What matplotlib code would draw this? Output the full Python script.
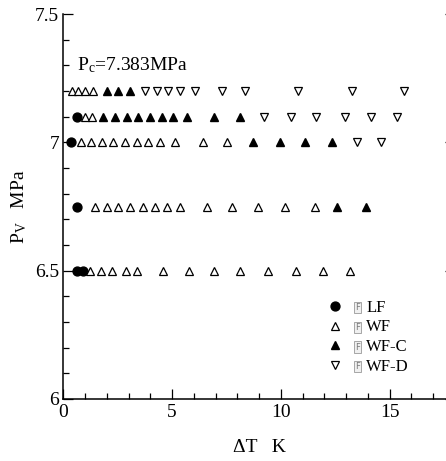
import matplotlib
matplotlib.use("Agg")
import matplotlib.pyplot as plt
from matplotlib.ticker import MultipleLocator, FuncFormatter

plt.rcParams['font.family'] = ['Liberation Serif', 'DejaVu Serif']
plt.rcParams['mathtext.fontset'] = 'custom'
plt.rcParams['mathtext.rm'] = 'Liberation Serif'
plt.rcParams['mathtext.it'] = 'Liberation Serif:italic'

# data: (dT [K], Pv [MPa])
lf_dt = [0.34, 0.62, 0.65, 0.62, 0.9]
lf_p = [7.0, 7.1, 6.75, 6.5, 6.5]

wf_dt_72 = [0.40, 0.69, 1.01, 1.38]
wf_dt_71 = [1.0, 1.3]
wf_dt_70 = [0.8, 1.26, 1.77, 2.3, 2.84, 3.37, 3.91, 4.45, 5.14, 6.42, 7.51]
wf_dt_675 = [1.46, 2.0, 2.53, 3.07, 3.65, 4.22, 4.78, 5.37, 6.59, 7.77, 8.97, 10.19, 11.57]
wf_dt_65 = [1.23, 1.72, 2.24, 2.86, 3.37, 4.6, 5.77, 6.94, 8.13, 9.41, 10.68, 11.93, 13.18]

wfc_dt_72 = [2.0, 2.53, 3.07]
wfc_dt_71 = [1.84, 2.38, 2.91, 3.45, 3.99, 4.52, 5.06, 5.67, 6.94, 8.12]
wfc_dt_70 = [8.73, 9.96, 11.1, 12.34]
wfc_dt_675 = [12.6, 13.9]

wfd_dt_72 = [3.76, 4.29, 4.83, 5.37, 6.06, 7.28, 8.35, 10.8, 13.26, 15.67]
wfd_dt_71 = [9.23, 10.45, 11.6, 12.95, 14.13, 15.33]
wfd_dt_70 = [13.52, 14.6]

wf_dt = wf_dt_72 + wf_dt_71 + wf_dt_70 + wf_dt_675 + wf_dt_65
wf_p = ([7.2] * len(wf_dt_72) + [7.1] * len(wf_dt_71) + [7.0] * len(wf_dt_70)
        + [6.75] * len(wf_dt_675) + [6.5] * len(wf_dt_65))
wfc_dt = wfc_dt_72 + wfc_dt_71 + wfc_dt_70 + wfc_dt_675
wfc_p = ([7.2] * len(wfc_dt_72) + [7.1] * len(wfc_dt_71) + [7.0] * len(wfc_dt_70)
         + [6.75] * len(wfc_dt_675))
wfd_dt = wfd_dt_72 + wfd_dt_71 + wfd_dt_70
wfd_p = [7.2] * len(wfd_dt_72) + [7.1] * len(wfd_dt_71) + [7.0] * len(wfd_dt_70)

fig = plt.figure(figsize=(4.46, 4.61), dpi=100)
# axes runs off the right edge, as in the original
ax = fig.add_axes([0.142, 0.1345, 0.878, 0.835])

ax.plot(lf_dt, lf_p, 'o', ms=6.4, color='black', ls='none', label='LF')
ax.plot(wf_dt, wf_p, '^', ms=6.3, mfc='white', mec='black', mew=0.9, ls='none', label='WF')
ax.plot(wfc_dt, wfc_p, '^', ms=6.3, color='black', ls='none', label='WF-C')
ax.plot(wfd_dt, wfd_p, 'v', ms=6.3, mfc='white', mec='black', mew=0.9, ls='none', label='WF-D')

ax.set_xlim(0, 18)
ax.set_ylim(6, 7.5)
ax.xaxis.set_major_locator(MultipleLocator(5))
ax.xaxis.set_minor_locator(MultipleLocator(1))
ax.yaxis.set_major_locator(MultipleLocator(0.5))
ax.yaxis.set_minor_locator(MultipleLocator(0.1))
ax.yaxis.set_major_formatter(FuncFormatter(lambda v, p: f'{v:g}'))
ax.tick_params(which='both', direction='in', labelsize=14, width=0.9)
ax.tick_params(which='major', length=7)
ax.tick_params(which='minor', length=4)
ax.tick_params(axis='y', which='both', right=True, pad=3)
ax.tick_params(axis='y', which='minor', right=False)
ax.spines['top'].set_visible(False)
for s in ['left', 'bottom', 'right']:
    ax.spines[s].set_linewidth(1.1)

ax.set_xlabel('ΔT   K', fontsize=14, labelpad=13)
ax.set_ylabel('P$_\\mathrm{V}$   MPa', fontsize=14, labelpad=4)
ax.text(0.62, 7.30, 'P$_\\mathrm{c}$=7.383MPa', fontsize=14, va='center')

leg = ax.legend(loc='upper left', bbox_to_anchor=(0.672, 0.258), frameon=False,
                fontsize=12, handlelength=1.0, handletextpad=1.4,
                labelspacing=0.22, borderpad=0, borderaxespad=0)

# missing-glyph boxes shown before each legend label in the original
fig.canvas.draw()
inv = fig.transFigure.inverted()
for t in leg.get_texts():
    bb = t.get_window_extent()
    x, y = inv.transform((bb.x0 - 9, (bb.y0 + bb.y1) / 2))
    fig.text(x, y, 'F', fontsize=6, color='#777777', ha='center', va='center',
             family='DejaVu Sans',
             bbox=dict(boxstyle='square,pad=0.15', fc='#f0f0f0', ec='#999999', lw=0.6))

fig.savefig('out.png', dpi=100)
